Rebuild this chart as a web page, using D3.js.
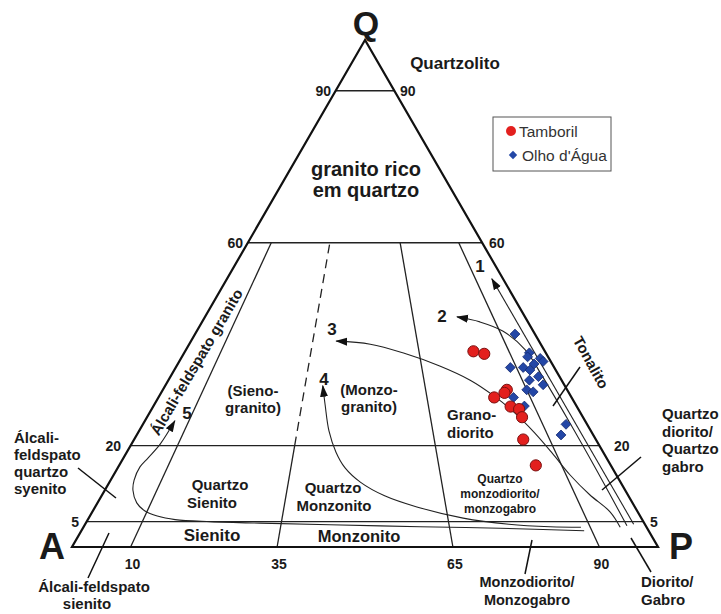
<!DOCTYPE html>
<html><head><meta charset="utf-8">
<script src="https://cdn.jsdelivr.net/npm/d3@7"></script>
<style>
body{margin:0;background:#fff}
svg{display:block}
text{font-family:"Liberation Sans",Arial,Helvetica,sans-serif;fill:#1a1a1a}
</style>
</head><body>
<svg id="c" width="721" height="614"></svg>
<script>
// ---------------- DATA (ternary %: Q, A, P) ----------------
const tamborilQ = [38.6, 38.1, 31.0, 30.4, 29.5, 27.7, 27.2, 25.6, 21.2, 16.1];
const tamborilA = [12.2, 10.6, 10.3, 11.0, 13.2, 11.3, 10.1, 10.4, 12.4, 12.8];
const tamborilP = [49.2, 51.3, 58.7, 58.6, 57.3, 61.0, 62.7, 64.0, 66.4, 71.1];

const olhoQ = [42.0, 38.3, 37.5, 37.2, 36.6, 36.1, 35.4, 35.4, 34.9, 33.6, 32.0, 32.9, 31.0, 30.6, 29.5, 27.8, 24.2, 22.1];
const olhoA = [3.4, 2.8, 3.5, 1.5, 1.3, 3.1, 7.5, 5.3, 4.4, 3.6, 3.6, 5.5, 6.9, 6.0, 9.9, 8.9, 3.6, 5.5];
const olhoP = [54.6, 58.9, 59.0, 61.3, 62.1, 60.8, 57.1, 59.3, 60.7, 62.8, 64.4, 61.6, 62.1, 63.4, 60.6, 63.3, 72.2, 72.4];

// trend lines (start near P, end at arrow tip)
const trend1 = [[4.5,1.9,93.6],[52.9,1.9,45.2]];
const trend2 = [[4.2,3.2,92.6],[15,2.9,82.1],[25,2.8,72.2],[34,2.9,63.1],[38.9,3.2,57.9],[42.6,5.2,52.2],[44.4,8.2,47.4],[45.4,11.6,43.0]];
const trend3 = [[3.9,4.5,91.6],[6.9,4.7,88.4],[10.3,6.5,83.2],[14.2,7.9,77.9],[18.5,8.8,72.7],[22.5,9.8,67.7],[26.4,11.2,62.4],[29.8,13.1,57.1],[32.9,15.6,51.5],[35.7,19.4,44.9],[38.3,24.4,37.3],[40.0,29.1,30.9],[40.6,34.6,24.8]];
const trend4 = [[3.9,11.2,84.9],[4.0,16.4,79.6],[4.5,23.2,72.3],[5.7,30.4,63.9],[7.9,37.2,54.9],[10.1,41.6,48.3],[12.8,44.4,42.8],[15.6,45.6,38.8],[18.7,45.6,35.7],[22.9,44.7,32.4],[28.0,42.8,29.2],[31.8,41.3,26.9]];
const trend5 = [[3.2,11.0,85.8],[3.7,25.1,71.2],[4.0,38.6,57.4],[4.4,53.8,41.8],[4.7,65.6,29.7],[5.0,73.9,21.1],[5.4,79.7,14.9],[6.1,82.4,11.5],[7.1,84.0,8.9],[8.7,84.6,6.7],[11.2,84.0,4.8],[13.2,82.8,4.0],[15.8,80.5,3.7],[17.6,78.2,4.2],[20.3,74.8,4.9],[24.9,70.0,5.1]];
const trendNames = ["1","2","3","4","5"];

// field boundaries
const horizontalQ = [90, 60, 20, 5];
const sideTickLabels = ["90", "60", "20", "5"];
const radialRatios = [10, 35, 65, 90];
const baseTickLabels = ["10", "35", "65", "90"];

// ---------------- SCALES ----------------
const svg = d3.select("#c");
const xS = d3.scaleLinear().domain([0, 100]).range([72, 658]);
const yS = d3.scaleLinear().domain([0, 100]).range([547, 40]);
function proj(q, a, p) {
  const s = q + a + p; q = q / s * 100; p = p / s * 100;
  return [xS(p + q / 2), yS(q)];
}
const radialPt = (r, q) => proj(q, (100 - q) * (1 - r / 100), (100 - q) * r / 100);

// markers
const defs = svg.append("defs");
defs.append("marker").attr("id", "arr").attr("viewBox", "0 -5 12 10")
  .attr("refX", 11).attr("refY", 0).attr("markerWidth", 12).attr("markerHeight", 10)
  .attr("markerUnits", "userSpaceOnUse").attr("orient", "auto")
  .append("path").attr("d", "M0,-4L12,0L0,4Z").attr("fill", "#111");

const lineGen = d3.line();
const g = svg.append("g");

// horizontal boundaries
horizontalQ.forEach(h => {
  const a = proj(h, 100 - h, 0), b = proj(h, 0, 100 - h);
  g.append("line").attr("x1", a[0]).attr("y1", a[1]).attr("x2", b[0]).attr("y2", b[1])
    .attr("stroke", "#222").attr("stroke-width", 1.4);
});
// radial boundaries
const radialSegs = [
  {r: 10, q0: 0, q1: 60, dash: null},
  {r: 35, q0: 0, q1: 20, dash: null},
  {r: 35, q0: 20, q1: 60, dash: "9,6"},
  {r: 65, q0: 0, q1: 60, dash: null},
  {r: 90, q0: 0, q1: 60, dash: null}
];
radialSegs.forEach(s => {
  const a = radialPt(s.r, s.q0), b = radialPt(s.r, s.q1);
  g.append("line").attr("x1", a[0]).attr("y1", a[1]).attr("x2", b[0]).attr("y2", b[1])
    .attr("stroke", "#222").attr("stroke-width", 1.3).attr("stroke-dasharray", s.dash);
});
// outline
g.append("path").attr("d", lineGen([proj(100,0,0), proj(0,100,0), proj(0,0,100)]) + "Z")
  .attr("fill", "none").attr("stroke", "#111").attr("stroke-width", 2.2).attr("stroke-linejoin", "miter");

// trend curves
const curveGen = d3.line().curve(d3.curveCatmullRom.alpha(0.5));
[trend1, trend2, trend3, trend4, trend5].forEach(t => {
  g.append("path").attr("d", curveGen(t.map(d => proj(d[0], d[1], d[2]))))
    .attr("fill", "none").attr("stroke", "#222").attr("stroke-width", 1.1)
    .attr("marker-end", "url(#arr)");
});

// leader lines (layout, px)
const leaders = [
  [78,468,116,498], [109,533,88,578], [580,367,553,406],
  [641,457,602,490], [532,540,525,574], [631,538,651,572]
];
leaders.forEach(l => g.append("line").attr("x1", l[0]).attr("y1", l[1]).attr("x2", l[2]).attr("y2", l[3])
  .attr("stroke", "#111").attr("stroke-width", 1.5));

// data points
const tam = tamborilQ.map((q, i) => proj(q, tamborilA[i], tamborilP[i]));
const olh = olhoQ.map((q, i) => proj(q, olhoA[i], olhoP[i]));
const diamond = d3.symbol().type(d3.symbolDiamond2).size(62);
g.selectAll(".olh").data(olh).join("path").attr("class", "olh")
  .attr("transform", d => `translate(${d[0]},${d[1]})`).attr("d", diamond)
  .attr("fill", "#2447a6").attr("stroke", "#142a70").attr("stroke-width", 0.8);
g.selectAll(".tam").data(tam).join("circle").attr("class", "tam")
  .attr("cx", d => d[0]).attr("cy", d => d[1]).attr("r", 5.6)
  .attr("fill", "#e3201e").attr("stroke", "#7a1010").attr("stroke-width", 1);

// tick labels
const leftTickX = [331, 243, 121, 79], rightTickX = [400, 489, 614, 650];
horizontalQ.forEach((h, i) => {
  const y = yS(h) + 5;
  g.append("text").attr("x", leftTickX[i]).attr("y", y).attr("text-anchor", "end")
    .attr("font-size", 14).attr("font-weight", "bold").text(sideTickLabels[i]);
  g.append("text").attr("x", rightTickX[i]).attr("y", y).attr("text-anchor", "start")
    .attr("font-size", 14).attr("font-weight", "bold").text(sideTickLabels[i]);
});
radialRatios.forEach((r, i) => {
  g.append("text").attr("x", xS(r) + 2).attr("y", 569).attr("text-anchor", "middle")
    .attr("font-size", 14).attr("font-weight", "bold").text(baseTickLabels[i]);
});

// text labels (layout, px)
const labels = [
  {t:"Q", x:366, y:35, s:34, a:"middle"},
  {t:"A", x:52, y:559, s:36, a:"middle"},
  {t:"P", x:681, y:559, s:36, a:"middle"},
  {t:"Quartzolito", x:455, y:69, s:17, a:"middle"},
  {t:"granito rico", x:366, y:176, s:20, a:"middle"},
  {t:"em quartzo", x:366, y:197, s:20, a:"middle"},
  {t:"(Sieno-", x:253, y:396, s:15, a:"middle"},
  {t:"granito)", x:253, y:413, s:15, a:"middle"},
  {t:"(Monzo-", x:369, y:395, s:15, a:"middle"},
  {t:"granito)", x:369, y:412, s:15, a:"middle"},
  {t:"Grano-", x:447, y:420, s:15, a:"start"},
  {t:"diorito", x:447, y:438, s:15, a:"start"},
  {t:"Quartzo", x:220, y:490, s:15, a:"middle"},
  {t:"Sienito", x:212, y:508, s:15, a:"middle"},
  {t:"Quartzo", x:333, y:493, s:15, a:"middle"},
  {t:"Monzonito", x:334, y:511, s:15, a:"middle"},
  {t:"Quartzo", x:500, y:483, s:12, a:"middle"},
  {t:"monzodiorito/", x:500, y:498, s:12, a:"middle"},
  {t:"monzogabro", x:500, y:513, s:12, a:"middle"},
  {t:"Sienito", x:212, y:541, s:17, a:"middle"},
  {t:"Monzonito", x:359, y:542, s:16.5, a:"middle"},
  {t:"Álcali-", x:14, y:443, s:15, a:"start"},
  {t:"feldspato", x:14, y:460, s:15, a:"start"},
  {t:"quartzo", x:14, y:477, s:15, a:"start"},
  {t:"syenito", x:14, y:494, s:15, a:"start"},
  {t:"Quartzo", x:662, y:419, s:15, a:"start"},
  {t:"diorito/", x:662, y:437, s:15, a:"start"},
  {t:"Quartzo", x:662, y:454, s:15, a:"start"},
  {t:"gabro", x:662, y:472, s:15, a:"start"},
  {t:"Álcali-feldspato", x:94, y:592, s:15, a:"middle"},
  {t:"sienito", x:87, y:609, s:15, a:"middle"},
  {t:"Monzodiorito/", x:527, y:587, s:14.5, a:"middle"},
  {t:"Monzogabro", x:527, y:605, s:14.5, a:"middle"},
  {t:"Diorito/", x:641, y:587, s:15, a:"start"},
  {t:"Gabro", x:641, y:605, s:15, a:"start"}
];
labels.forEach(l => g.append("text").attr("x", l.x).attr("y", l.y).attr("text-anchor", l.a)
  .attr("font-size", l.s).attr("font-weight", "bold").text(l.t));

// rotated labels
g.append("text").attr("transform", "translate(196.5,362) rotate(-59.5)").attr("text-anchor", "middle")
  .attr("dy", "0.35em").attr("font-size", 15).attr("font-weight", "bold").text("Álcali-feldspato granito");
g.append("text").attr("transform", "translate(591,362.5) rotate(61)").attr("text-anchor", "middle")
  .attr("dy", "0.35em").attr("font-size", 15).attr("font-weight", "bold").text("Tonalito");

// trend numbers
const trendLabelPos = [[480,272],[442,322],[332,335],[324,385],[187,419]];
trendNames.forEach((n, i) => g.append("text").attr("x", trendLabelPos[i][0]).attr("y", trendLabelPos[i][1])
  .attr("text-anchor", "middle").attr("font-size", 17).attr("font-weight", "bold").text(n));

// legend
const lg = svg.append("g");
lg.append("rect").attr("x", 493).attr("y", 117).attr("width", 118).attr("height", 54)
  .attr("fill", "#fff").attr("stroke", "#555").attr("stroke-width", 1);
lg.append("circle").attr("cx", 511).attr("cy", 131).attr("r", 5).attr("fill", "#e3201e");
lg.append("path").attr("transform", "translate(513,155)").attr("d", d3.symbol().type(d3.symbolDiamond2).size(45)).attr("fill", "#2447a6");
lg.append("text").attr("x", 519).attr("y", 137).attr("font-size", 15.5).style("fill", "#333").text("Tamboril");
lg.append("text").attr("x", 522).attr("y", 161).attr("font-size", 15.5).style("fill", "#333").text("Olho d'Água");
</script>
</body></html>
